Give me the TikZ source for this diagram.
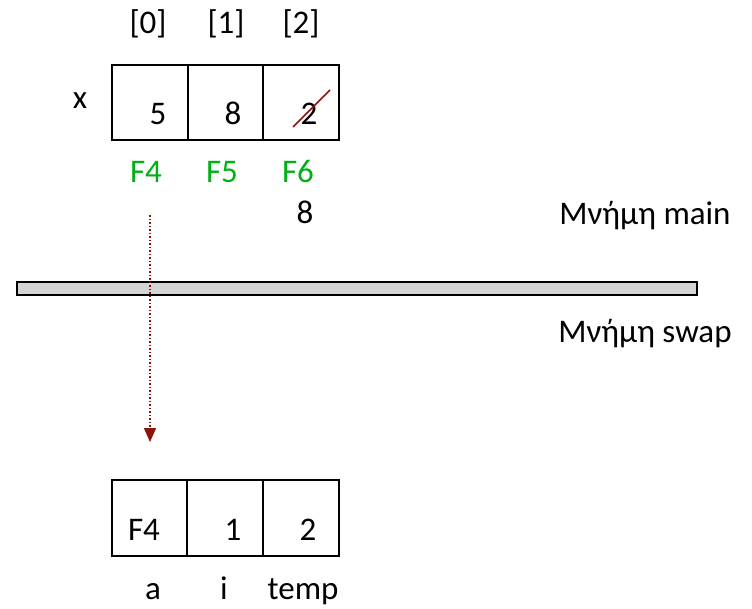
\documentclass[tikz,border=0pt]{standalone}
\usepackage{fontspec}
\setmainfont{Carlito}
\usetikzlibrary{arrows.meta}
\definecolor{fgreen}{RGB}{0,176,20}
\definecolor{dred}{RGB}{140,20,10}
\definecolor{barg}{RGB}{212,212,212}
\begin{document}
\begin{tikzpicture}[x=1pt,y=-1pt,
  lbl/.style={anchor=base,inner sep=0pt,font=\fontsize{33}{40}\selectfont},
  glbl/.style={lbl,text=fgreen},
  cell/.style={draw,line width=1.8pt}]
\useasboundingbox (0,0) rectangle (752,608);
% top array
\draw[cell] (112,65) rectangle (339,140);
\draw[line width=1.8pt] (188,65) -- (188,140) (263,65) -- (263,140);
\node[lbl] (i0) at (148,33) {[0]};
\node[lbl] (i1) at (226,33) {[1]};
\node[lbl] (i2) at (301,33) {[2]};
\node[lbl] (x) at (80,108) {x};
\node[lbl] (v0) at (158,124) {5};
\node[lbl] (v1) at (233,124) {8};
\node[lbl] (v2) at (309,124) {2};
\coordinate (s1) at (293,127);
\coordinate (s2) at (330,90);
\draw[dred,line width=1.5pt] (s1) -- (s2);
\node[glbl] (f4) at (146,182) {F4};
\node[glbl] (f5) at (222,182) {F5};
\node[glbl] (f6) at (298,182) {F6};
\node[lbl] (n8) at (305,223) {8};
\node[lbl] (mm) at (645,224) {Μνήμη main};
\node[lbl] (ms) at (645,342) {Μνήμη swap};
% bar
\draw[fill=barg,line width=1.8pt] (17,282) rectangle (697,295);
% arrow
\coordinate (as) at (150,215);
\coordinate (ae) at (150,442);
\draw[dred,line width=1.5pt,dotted,-{Triangle[width=12pt,length=14pt]}] (as) -- (ae);
% bottom array
\draw[cell] (112,480) rectangle (339,556);
\draw[line width=1.8pt] (187,480) -- (187,556) (263,480) -- (263,556);
\node[lbl] (b0) at (144,540) {F4};
\node[lbl] (b1) at (233,540) {1};
\node[lbl] (b2) at (308,540) {2};
\node[lbl] (la) at (153,599) {a};
\node[lbl] (li) at (224,599) {i};
\node[lbl] (lt) at (303,599) {temp};
\end{tikzpicture}
\end{document}
